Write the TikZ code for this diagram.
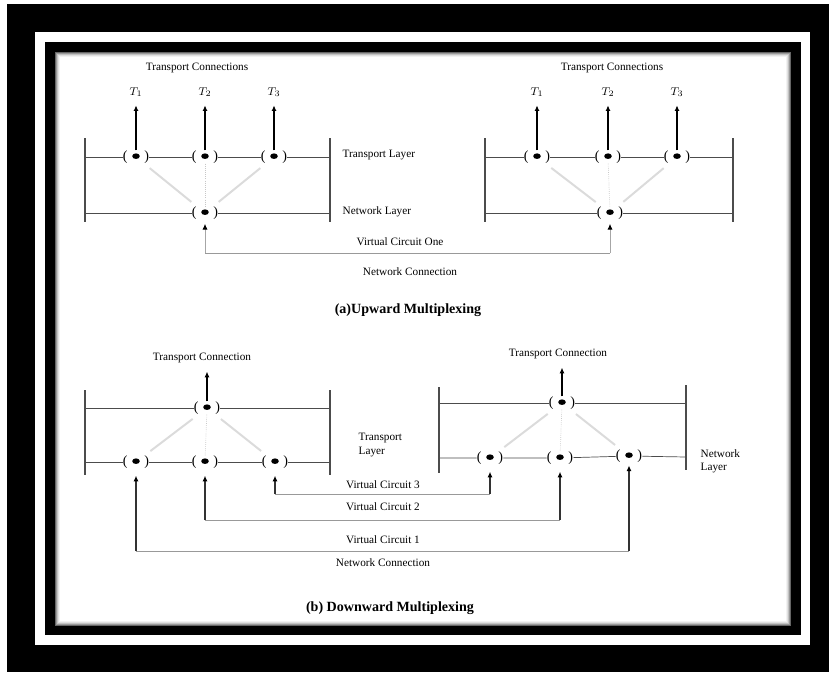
\documentclass[tikz,border=0pt]{standalone}
\usepackage{fontspec}
\setmainfont{Liberation Serif}
\usetikzlibrary{arrows.meta,positioning}

\begin{document}
\begin{tikzpicture}[
		x=0.025cm,
		y=-0.025cm,
		>={Latex[length=4pt,width=3.6pt]},
		sap/.style={fill=white, inner sep=0pt, font=\fontsize{10}{10}\selectfont,
			path picture={\fill[black] ([yshift=0.6pt]path picture bounding box.center) ellipse (2.7pt and 2pt);}},
		lbl/.style={font=\fontsize{8}{9.5}\selectfont, inner sep=1pt},
		ttl/.style={font=\fontsize{10}{12}\selectfont\bfseries, inner sep=1pt},
		tlab/.style={font=\fontsize{8}{9}\selectfont, inner sep=1pt},
		lyr/.style={draw=black!70, line width=0.5pt},
		bar/.style={draw=black!70, line width=0.8pt},
		uparr/.style={->, line width=1pt, shorten >=5pt},
		mux/.style={draw=black!14, line width=1.4pt, shorten <=5pt, shorten >=5pt},
		muxv/.style={draw=black!22, line width=0.5pt, densely dotted},
		vchor/.style={draw=black!40, line width=0.6pt},
		vcup/.style={-{Latex[length=4pt,width=3.6pt,color=black]}, draw=black!80, line width=0.9pt, shorten >=5pt}
		]
		
		% access point ( o ), drawn by the sap style
		\def\sapmark{(\hspace{12pt})}
		
		%------------------------------------------------------------------
		% Frame
		%------------------------------------------------------------------
		\useasboundingbox (0,0) rectangle (829,672);
		\fill[white] (0,0) rectangle (829,672);
		\fill[black] (7,4) rectangle (829,672);
		\fill[white] (35,32) rectangle (810,645);
		\fill[black] (45,42) rectangle (801,635);
		\fill[white] (55,52) rectangle (791,626);
		\foreach \i/\c in {0/60,1/40,2/24,3/12,4/5}{
			\draw[black!\c, line width=0.72pt] ({55.5+\i},{52.5+\i}) rectangle ({790.5-\i},{625.5-\i});
		}
		
		%------------------------------------------------------------------
		% (a) Upward multiplexing
		%------------------------------------------------------------------
		\draw[bar] (85,138) -- (85,222);
		\draw[bar] (330,138) -- (330,222);
		\draw[bar] (485,138) -- (485,222);
		\draw[bar] (733,138) -- (733,222);
		
		\coordinate (aTl) at (85,157);  \coordinate (aTr) at (330,157);
		\coordinate (aNl) at (85,213);  \coordinate (aNr) at (330,213);
		\coordinate (bTl) at (485,157); \coordinate (bTr) at (733,157);
		\coordinate (bNl) at (485,213); \coordinate (bNr) at (733,213);
		
		\node[sap] (tA1) at (136,157) {\sapmark};
		\node[sap] (tA2) at (205,157) {\sapmark};
		\node[sap] (tA3) at (274,157) {\sapmark};
		\node[sap] (nA)  at (205,213) {\sapmark};
		
		\node[sap] (tB1) at (537,157) {\sapmark};
		\node[sap] (tB2) at (608,157) {\sapmark};
		\node[sap] (tB3) at (677,157) {\sapmark};
		\node[sap] (nB)  at (610,213) {\sapmark};
		
		\draw[lyr] (aTl) -- (tA1) -- (tA2) -- (tA3) -- (aTr);
		\draw[lyr] (aNl) -- (nA) -- (aNr);
		\draw[lyr] (bTl) -- (tB1) -- (tB2) -- (tB3) -- (bTr);
		\draw[lyr] (bNl) -- (nB) -- (bNr);
		
		% faint multiplexing paths
		\draw[mux] (tA1) -- (nA);
		\draw[mux] (tA3) -- (nA);
		\draw[muxv] (tA2) -- (nA);
		\draw[mux] (tB1) -- (nB);
		\draw[mux] (tB3) -- (nB);
		\draw[muxv] (tB2) -- (nB);
		
		% transport connections
		\node[lbl] at (197,68) {Transport Connections};
		\node[lbl] at (612,68) {Transport Connections};
		
		\node[tlab] (TA1) at (136,92) {$T_1$};
		\node[tlab] (TA2) at (205,92) {$T_2$};
		\node[tlab] (TA3) at (274,92) {$T_3$};
		\node[tlab] (TB1) at (537,92) {$T_1$};
		\node[tlab] (TB2) at (608,92) {$T_2$};
		\node[tlab] (TB3) at (677,92) {$T_3$};
		
		\draw[uparr] (tA1) -- (TA1);
		\draw[uparr] (tA2) -- (TA2);
		\draw[uparr] (tA3) -- (TA3);
		\draw[uparr] (tB1) -- (TB1);
		\draw[uparr] (tB2) -- (TB2);
		\draw[uparr] (tB3) -- (TB3);
		
		\node[lbl, anchor=west] at (341,155) {Transport Layer};
		\node[lbl, anchor=west] at (341,212) {Network Layer};
		
		% virtual circuit one
		\coordinate (vcA) at (205,253);
		\coordinate (vcB) at (610,253);
		\draw[vchor] (vcA) -- (vcB);
		\draw[vcup, draw=black!35, line width=0.6pt, shorten >=3pt] (vcA) -- (nA);
		\draw[vcup, draw=black!35, line width=0.6pt, shorten >=3pt] (vcB) -- (nB);
		
		\node[lbl] at (400,242) {Virtual Circuit One};
		\node[lbl] at (410,272) {Network Connection};
		\node[ttl] at (408,310) {(a)Upward Multiplexing};
		
		%------------------------------------------------------------------
		% (b) Downward multiplexing
		%------------------------------------------------------------------
		\draw[bar] (85,390) -- (85,475);
		\draw[bar] (330,390) -- (330,475);
		\draw[bar] (439,387) -- (439,473);
		\draw[bar] (686,385) -- (686,470);
		
		\coordinate (cTl) at (85,408);  \coordinate (cTr) at (330,408);
		\coordinate (cNl) at (85,462);  \coordinate (cNr) at (330,462);
		\coordinate (dTl) at (439,403); \coordinate (dTr) at (686,403);
		\coordinate (dNl) at (439,458); \coordinate (dNr) at (686,457);
		
		\node[sap] (tC)  at (207,408) {\sapmark};
		\node[sap] (nC1) at (136,462) {\sapmark};
		\node[sap] (nC2) at (205,462) {\sapmark};
		\node[sap] (nC3) at (275,462) {\sapmark};
		
		\node[sap] (tD)  at (562,403) {\sapmark};
		\node[sap] (nD1) at (490,458) {\sapmark};
		\node[sap] (nD2) at (560,458) {\sapmark};
		\node[sap] (nD3) at (629,456) {\sapmark};
		
		\draw[lyr] (cTl) -- (tC) -- (cTr);
		\draw[lyr] (cNl) -- (nC1) -- (nC2) -- (nC3) -- (cNr);
		\draw[lyr] (dTl) -- (tD) -- (dTr);
		\draw[lyr] (dNl) -- (nD1) -- (nD2) -- (nD3) -- (dNr);
		
		\draw[mux] (tC) -- (nC1);
		\draw[mux] (tC) -- (nC3);
		\draw[muxv] (tC) -- (nC2);
		\draw[mux] (tD) -- (nD1);
		\draw[mux] (tD) -- (nD3);
		\draw[muxv] (tD) -- (nD2);
		
		\node[lbl] (TC) at (202,358) {Transport Connection};
		\node[lbl] (TD) at (558,354) {Transport Connection};
		\draw[uparr] (tC) -- (tC |- TC.south);
		\draw[uparr] (tD) -- (tD |- TD.south);
		
		\node[lbl, anchor=west, align=left] at (357,445) {Transport\\Layer};
		\node[lbl, anchor=west, align=left] at (699,461) {Network\\Layer};
		
		% virtual circuits
		\coordinate (vc3a) at (275,494); \coordinate (vc3b) at (490,494);
		\coordinate (vc2a) at (205,520); \coordinate (vc2b) at (560,520);
		\coordinate (vc1a) at (136,551); \coordinate (vc1b) at (629,551);
		
		\draw[vchor] (vc3a) -- (vc3b);
		\draw[vchor] (vc2a) -- (vc2b);
		\draw[vchor] (vc1a) -- (vc1b);
		\draw[vcup] (vc3a) -- (nC3);
		\draw[vcup] (vc3b) -- (nD1);
		\draw[vcup] (vc2a) -- (nC2);
		\draw[vcup] (vc2b) -- (nD2);
		\draw[vcup] (vc1a) -- (nC1);
		\draw[vcup, shorten >=2pt] (vc1b) -- (nD3);
		
		\node[lbl] at (383,485) {Virtual Circuit 3};
		\node[lbl] at (383,507) {Virtual Circuit 2};
		\node[lbl] at (383,540) {Virtual Circuit 1};
		\node[lbl] at (383,563) {Network Connection};
		\node[ttl] at (390,608) {(b) Downward Multiplexing};
		
	\end{tikzpicture}
\end{document}
